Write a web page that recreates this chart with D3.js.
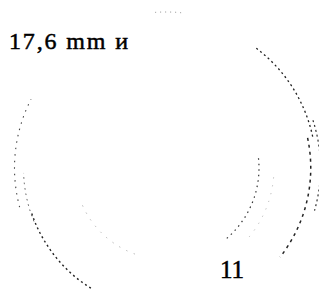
<!DOCTYPE html>
<html><head><meta charset="utf-8">
<script src="https://cdn.jsdelivr.net/npm/d3@7"></script>
<style>html,body{margin:0;padding:0;background:#fff;}svg{display:block;}</style>
</head><body>
<script>
// Data: concentric dotted arcs (radius as fraction of the outer circle, angles in degrees clockwise from top)
const arcNames   = ["rightOuterTop","rightOuterLow","rightSecond","rightInner","leftUpper","leftLower","leftSecond","leftInnerFaint","topFaint","rightMidFaint"];
const arcRadius  = [1.00, 0.965, 1.03, 0.62, 1.01, 0.945, 0.95, 0.61, 1.04, 0.72];
const arcStart   = [37, 78, 72, 84, 255, 212, 248, 200, 356, 95];
const arcEnd     = [78, 128, 106, 140, 297, 252, 268, 250, 6, 130];
const arcTone    = ["#222","#222","#333","#333","#444","#222","#555","#999","#888","#aaa"];
const labelTexts = ["17,6 mm и", "11"];

const W = 319, H = 297;
const svg = d3.select("body").append("svg").attr("width", W).attr("height", H);

const x = d3.scaleLinear().domain([-1, 1]).range([16, 316]);
const y = d3.scaleLinear().domain([-1, 1]).range([18, 318]);
const r = d3.scaleLinear().domain([0, 1]).range([0, 150]);

const dashes = ["2,3","3,4","2,3","1.5,4","1.5,5","2,3","1.5,4","1,7","1,4","1,7"];
const widths = [1.3,1.5,1.2,1.2,1.1,1.4,1.0,1.0,1.0,1.0];

arcNames.forEach((n, i) => {
  const p = d3.path();
  const a0 = (arcStart[i] - 90) * Math.PI / 180;
  let a1 = (arcEnd[i] - 90) * Math.PI / 180;
  if (arcEnd[i] < arcStart[i]) a1 += 2 * Math.PI;
  p.arc(x(0), y(0), r(arcRadius[i]), a0, a1, false);
  svg.append("path")
    .attr("d", p.toString())
    .attr("fill", "none")
    .attr("stroke", arcTone[i])
    .attr("stroke-width", widths[i])
    .attr("stroke-dasharray", dashes[i]);
});

svg.append("text")
  .attr("x", 9).attr("y", 49)
  .style("font-family", "'Liberation Serif', serif")
  .style("font-size", "24px")
  .attr("textLength", 119)
  .attr("lengthAdjust", "spacing")
  .attr("fill", "#000")
  .attr("stroke", "#000")
  .attr("stroke-width", 0.5)
  .text(labelTexts[0]);

svg.append("text")
  .attr("x", 220).attr("y", 278)
  .style("font-family", "'Liberation Serif', serif")
  .style("font-size", "25px")
  .attr("fill", "#000")
  .attr("stroke", "#000")
  .attr("stroke-width", 0.5)
  .text(labelTexts[1]);
</script>
</body></html>
